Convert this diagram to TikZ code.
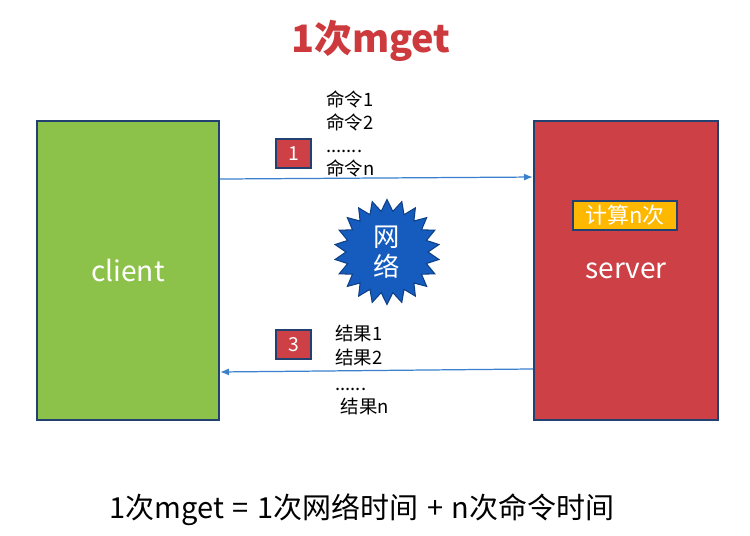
\documentclass[tikz,border=0pt]{standalone}
\usepackage{fontspec}
\setmainfont{Noto Sans CJK SC}
\usetikzlibrary{shapes.geometric,arrows.meta}

\definecolor{clientgreen}{RGB}{141,194,74}
\definecolor{serverred}{RGB}{204,64,70}
\definecolor{edgeblue}{RGB}{34,64,112}
\definecolor{linkblue}{RGB}{58,128,206}
\definecolor{starblue}{RGB}{22,92,190}
\definecolor{calcorange}{RGB}{255,184,0}
\definecolor{titlered}{RGB}{204,58,62}

\tikzset{
  endbox/.style={draw=edgeblue,line width=1.4pt,minimum height=5.98cm,
    text=white,font=\fontsize{16}{18}\selectfont},
  stepbox/.style={draw=edgeblue,line width=1.2pt,fill=serverred,text=white,
    minimum width=0.7cm,minimum height=0.58cm,inner sep=0pt,
    font=\fontsize{11}{12}\selectfont},
  msglist/.style={anchor=north west,inner sep=0pt,align=left,
    font=\fontsize{10.5}{13.2}\selectfont},
  link/.style={draw=linkblue,line width=0.7pt,-{Latex[length=5pt,width=4pt]}}
}

\begin{document}
\begin{tikzpicture}[x=0.02cm,y=-0.02cm]
            \useasboundingbox (0,0) rectangle (750,535);

            % Title
            \node[text=titlered,font=\fontsize{21.5}{24}\selectfont\bfseries] (title) at (371,41) {1次mget};

            % Client and server
            \node[endbox,fill=clientgreen,minimum width=3.64cm] (client) at (128,270.5) {client};
            \node[endbox,fill=serverred,minimum width=3.68cm] (server) at (626,270.5) {server};
            \node[draw=edgeblue,line width=1.2pt,fill=calcorange,text=white,
              minimum width=2.08cm,minimum height=0.58cm,inner sep=0pt,
              font=\fontsize{12.5}{14}\selectfont] (calc) at (625,215.5) {计算n次};

            % Network in the middle
            \node[star,star points=22,star point ratio=1.28,minimum size=2.1cm,
              fill=starblue,draw=starblue!70!black,line width=0.6pt] (net) at (387,252) {};
            \node[text=white,align=center,font=\fontsize{15}{17}\selectfont] (netlabel) at (net) {网\\络};

            % Requests
            \draw[link] ([yshift=1.83cm]client.east) -- ([yshift=1.87cm]server.west);
            \node[stepbox] (one) at (293.5,153.5) {1};
            \node[msglist] (cmds) at (326,90) {命令1\\命令2\\.......\\命令n};

            % Replies
            \draw[link] ([yshift=-1.97cm]server.west) -- ([yshift=-2.03cm]client.east);
            \node[stepbox] (three) at (293.5,344.5) {3};
            \node[msglist] (results) at (335,325) {结果1\\结果2\\[2pt]......\\\hspace{3pt}结果n};

            % Cost
            \node[font=\fontsize{16.5}{18}\selectfont] (cost) at (362,510) {1次mget\hspace{0.3em}=\hspace{0.3em}1次网络时间\hspace{0.3em}+\hspace{0.3em}n次命令时间};
        \end{tikzpicture}
\end{document}
